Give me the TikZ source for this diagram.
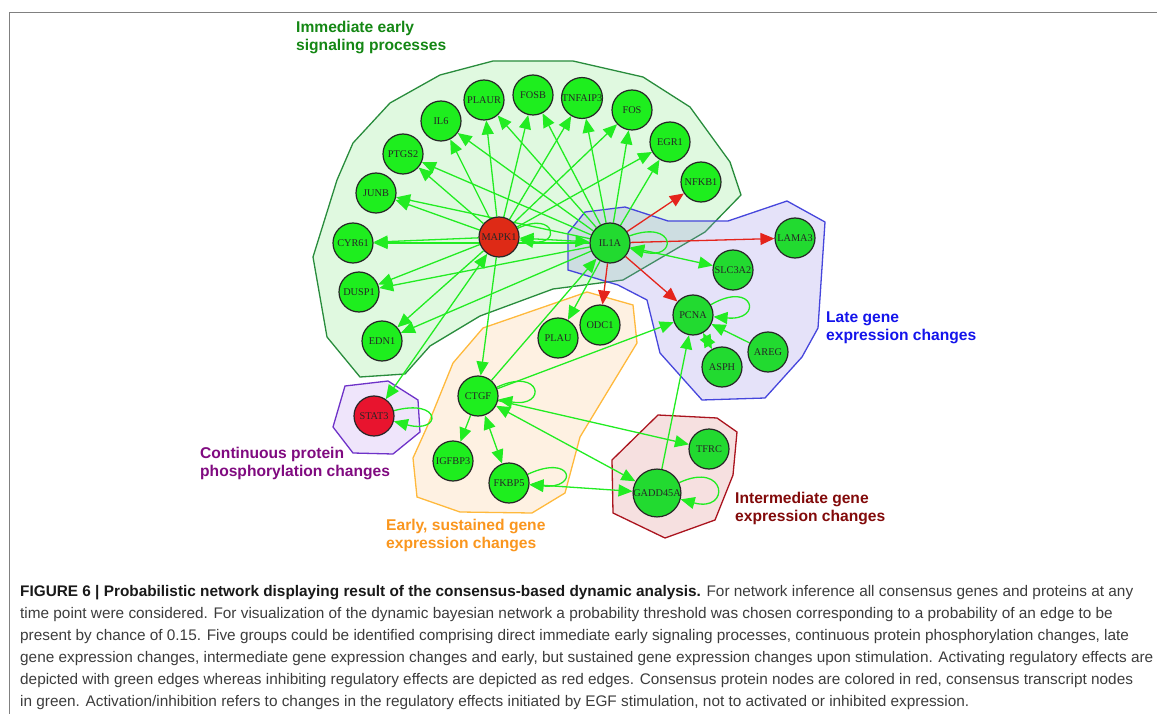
\documentclass[tikz,border=0pt]{standalone}
\usepackage{fontspec}
\setmainfont{Liberation Sans}
\newfontfamily\serifnode{Liberation Serif}
\usetikzlibrary{arrows.meta}
\definecolor{gA}{RGB}{30,238,30}
\definecolor{gB}{RGB}{34,218,48}
\definecolor{rM}{RGB}{222,42,22}
\definecolor{rS}{RGB}{232,20,46}
\definecolor{eG}{RGB}{34,236,34}
\definecolor{eR}{RGB}{228,36,28}
\definecolor{pG}{RGB}{130,230,130}
\definecolor{pGd}{RGB}{40,140,60}
\definecolor{pB}{RGB}{150,140,230}
\definecolor{pBd}{RGB}{70,70,220}
\definecolor{pO}{RGB}{252,200,140}
\definecolor{pOd}{RGB}{255,185,60}
\definecolor{pP}{RGB}{190,150,240}
\definecolor{pPd}{RGB}{110,50,200}
\definecolor{pR}{RGB}{220,130,130}
\definecolor{pRd}{RGB}{170,20,30}
\definecolor{lG}{RGB}{20,135,20}
\definecolor{lB}{RGB}{20,20,235}
\definecolor{lP}{RGB}{128,10,128}
\definecolor{lO}{RGB}{250,150,30}
\definecolor{lR}{RGB}{130,10,10}
\definecolor{capgray}{RGB}{60,60,60}
\pgfdeclarelayer{poly}
\pgfdeclarelayer{edges}
\pgfsetlayers{poly,edges,main}
\tikzset{
  >={Triangle[length=14pt,width=12pt]},
  gene/.style={circle, draw=black!85, line width=1.2pt, minimum size=40pt, inner sep=0pt,
    font=\serifnode\fontsize{10.3}{10.3}\selectfont, text=black!85},
  ga/.style={gene, fill=gA},
  gb/.style={gene, fill=gB},
  prot/.style={gene, fill=rM},
  act/.style={draw=eG, line width=1.3pt, ->},
  inh/.style={draw=eR, line width=1.3pt, ->},
  bi/.style={draw=eG, line width=1.3pt, <->},
  selfloop/.style={draw=eG, line width=1.3pt, ->, looseness=8, min distance=50pt},
  grp/.style={line width=1.3pt, fill opacity=0.25, draw opacity=1},
  lbl/.style={anchor=north west, align=left, inner sep=0pt,
    font=\bfseries\fontsize{15.6}{17.5}\selectfont}
}
\begin{document}
\begin{tikzpicture}[x=1pt,y=-1pt]
\useasboundingbox (0,0) rectangle (1157,714);
\draw[gray, line width=0.8pt] (9,714) -- (9,12) -- (1157,12);

% ---------- nodes ----------
\node[ga] (PLAUR) at (484,100) {PLAUR};
\node[ga] (FOSB) at (533,95) {FOSB};
\node[ga] (TNFAIP3) at (582,98) {TNFAIP3};
\node[ga] (FOS) at (632,110) {FOS};
\node[ga] (EGR1) at (670,142) {EGR1};
\node[ga] (NFKB1) at (701,182) {NFKB1};
\node[ga] (IL6) at (441,121) {IL6};
\node[ga] (PTGS2) at (403,154) {PTGS2};
\node[ga] (JUNB) at (376,193) {JUNB};
\node[ga] (CYR61) at (353,243) {CYR61};
\node[ga] (DUSP1) at (359,292) {DUSP1};
\node[ga] (EDN1) at (382,341) {EDN1};
\node[prot] (MAPK1) at (499,237) {MAPK1};
\node[gb] (IL1A) at (610,243) {IL1A};
\node[gb] (LAMA3) at (795,238) {LAMA3};
\node[gb] (SLC3A2) at (733,270) {SLC3A2};
\node[gb] (PCNA) at (693,315) {PCNA};
\node[gb] (AREG) at (768,352) {AREG};
\node[gb] (ASPH) at (722,367) {ASPH};
\node[ga] (PLAU) at (558,338) {PLAU};
\node[ga] (ODC1) at (600,325) {ODC1};
\node[ga] (CTGF) at (478,396) {CTGF};
\node[gene, fill=rS] (STAT3) at (374,416) {STAT3};
\node[ga] (IGFBP3) at (453,461) {IGFBP3};
\node[ga] (FKBP5) at (509,483) {FKBP5};
\node[gb] (TFRC) at (709,449) {TFRC};
\node[gb] (GADD45A) at (657,493) {GADD45A};

% ---------- group areas ----------
\begin{pgfonlayer}{poly}
\draw[grp, draw=pGd, fill=pG] (440,75) -- (493,61) -- (573,61) -- (643,77) -- (690,107) -- (730,162) -- (741,195) -- (705,232) -- (623,280) -- (553,289) -- (480,316) -- (430,346) -- (405,374) -- (360,377) -- (327,337) -- (313,257) -- (337,180) -- (353,143) -- (390,103) -- cycle;
\draw[grp, draw=pBd, fill=pB] (585,212) -- (625,207) -- (668,221) -- (728,221) -- (787,201) -- (825,222) -- (818,328) -- (802,357) -- (765,398) -- (702,400) -- (660,353) -- (647,300) -- (618,285) -- (568,270) -- (568,233) -- cycle;
\draw[grp, draw=pOd, fill=pO] (483,328) -- (587,292) -- (633,305) -- (637,343) -- (580,437) -- (565,493) -- (532,513) -- (460,512) -- (417,497) -- (413,458) -- (427,427) -- (453,363) -- cycle;
\draw[grp, draw=pPd, fill=pP] (333,427) -- (345,386) -- (388,381) -- (418,400) -- (420,432) -- (393,454) -- (353,453) -- cycle;
\draw[grp, draw=pRd, fill=pR] (612,460) -- (658,415) -- (717,418) -- (737,432) -- (733,475) -- (715,520) -- (665,538) -- (613,513) -- cycle;
\end{pgfonlayer}

% ---------- edges ----------
\begin{pgfonlayer}{edges}
\foreach \t in {CYR61,JUNB,PTGS2,IL6,PLAUR,FOSB,TNFAIP3,FOS,EGR1,DUSP1,EDN1,CTGF}
  \draw[act] (MAPK1) -- (\t);
\foreach \t in {CYR61,JUNB,PTGS2,IL6,PLAUR,FOSB,TNFAIP3,FOS,EGR1,DUSP1,EDN1,PLAU}
  \draw[act] (IL1A) -- (\t);
\draw[bi] (MAPK1) -- (IL1A);
\draw[bi] (MAPK1) -- (STAT3);
\draw[selfloop, min distance=42pt] (MAPK1) to[out=25,in=-8] (MAPK1);
\draw[inh] (IL1A) -- (NFKB1);
\draw[inh] (IL1A) -- (LAMA3);
\draw[inh] (IL1A) -- (PCNA);
\draw[inh] (IL1A) -- (ODC1);
\draw[bi] (IL1A) -- (SLC3A2);
\draw[selfloop] (IL1A) to[out=20,in=-15] (IL1A);
\draw[act] (CTGF) -- (IL1A);
\draw[act] (CTGF) -- (PCNA);
\draw[act] (CTGF) -- (IGFBP3);
\draw[act] (CTGF) -- (TFRC);
\draw[bi] (CTGF) -- (FKBP5);
\draw[bi] (CTGF) -- (GADD45A);
\draw[selfloop] (CTGF) to[out=25,in=-10] (CTGF);
\draw[bi] (FKBP5) -- (GADD45A);
\draw[selfloop] (FKBP5) to[out=25,in=-5] (FKBP5);
\draw[selfloop] (GADD45A) to[out=25,in=-15] (GADD45A);
\draw[act] (GADD45A) -- (PCNA);
\draw[selfloop] (PCNA) to[out=30,in=-5] (PCNA);
\draw[bi] (ASPH) -- (PCNA);
\draw[act] (AREG) -- (PCNA);
\draw[selfloop] (STAT3) to[out=15,in=-15] (STAT3);
\end{pgfonlayer}

% ---------- group labels ----------
\node[lbl, text=lG] (lblIE) at (296,21) {Immediate early\\signaling processes};
\node[lbl, text=lB] (lblLate) at (826,312) {Late gene\\expression changes};
\node[lbl, text=lP] (lblCont) at (200,447) {Continuous protein\\phosphorylation changes};
\node[lbl, text=lO] (lblEarly) at (386,519) {Early, sustained gene\\expression changes};
\node[lbl, text=lR] (lblInt) at (735,492) {Intermediate gene\\expression changes};

% ---------- caption ----------
\node[anchor=north west, align=left, inner sep=0pt, text=capgray,
  font=\fontsize{15.35}{22}\selectfont] (cap) at (20,585)
{\textcolor{black!90}{\textbf{FIGURE 6 | Probabilistic network displaying result of the consensus-based dynamic analysis.}} For network inference all consensus genes and proteins at any\\
time point were considered. For visualization of the dynamic bayesian network a probability threshold was chosen corresponding to a probability of an edge to be\\
present by chance of 0.15. Five groups could be identified comprising direct immediate early signaling processes, continuous protein phosphorylation changes, late\\
gene expression changes, intermediate gene expression changes and early, but sustained gene expression changes upon stimulation. Activating regulatory effects are\\
depicted with green edges whereas inhibiting regulatory effects are depicted as red edges. Consensus protein nodes are colored in red, consensus transcript nodes\\
in green. Activation/inhibition refers to changes in the regulatory effects initiated by EGF stimulation, not to activated or inhibited expression.};
\end{tikzpicture}
\end{document}
